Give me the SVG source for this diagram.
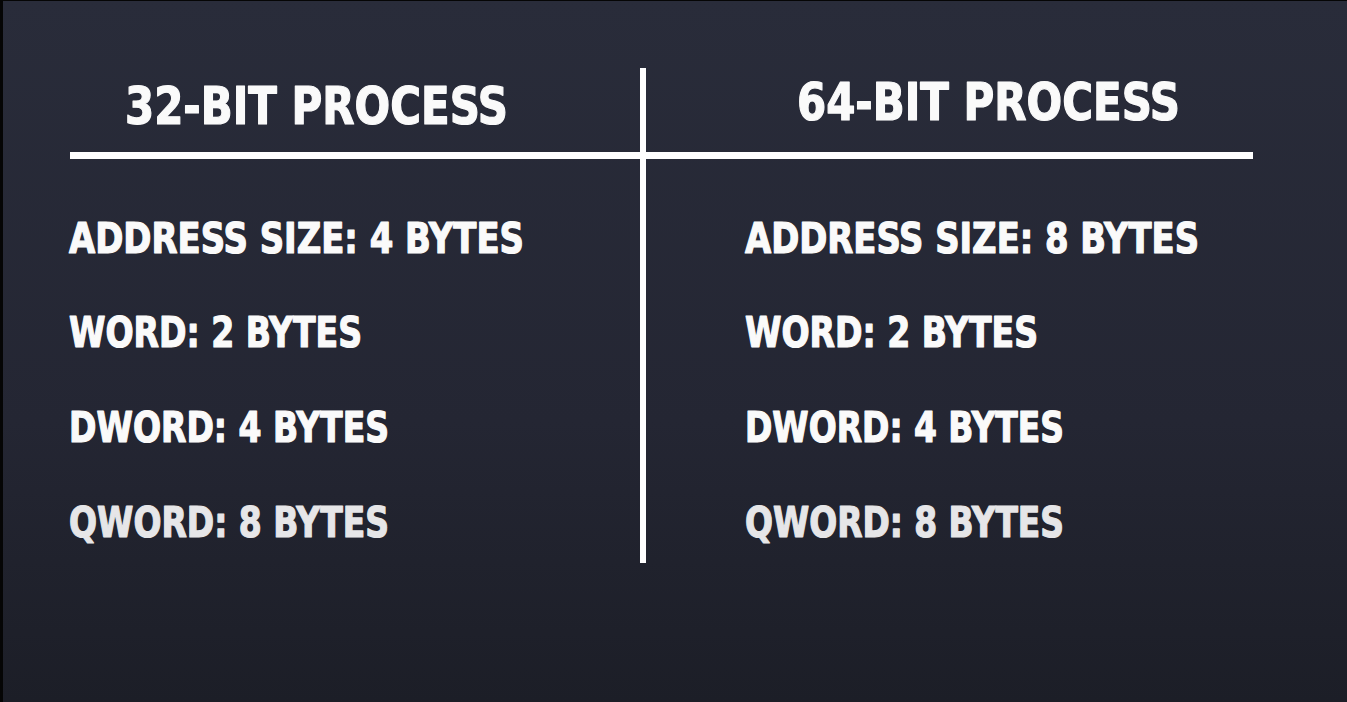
<svg xmlns="http://www.w3.org/2000/svg" width="1347" height="702" viewBox="0 0 1347 702">
  <defs>
    <linearGradient id="bg" x1="0" y1="0" x2="0" y2="1">
      <stop offset="0" stop-color="#292c3a"/>
      <stop offset="0.6" stop-color="#242633"/>
      <stop offset="1" stop-color="#1c1e27"/>
    </linearGradient>
  </defs>
  <style>
    .t { font-family: "DejaVu Sans Condensed", "DejaVu Sans", "Liberation Sans", sans-serif; font-weight: bold; fill: #fafafa; stroke: #fafafa; stroke-width: 1.2px; stroke-linejoin: round; }
    .h { font-size: 51px; }
    .r { font-size: 42px; }
    .q { fill: #e6e6e8; stroke: #e6e6e8; }
    .ln { fill: #ffffff; }
  </style>
  <rect x="0" y="0" width="1347" height="702" fill="url(#bg)"/>
  <rect x="0" y="0" width="3" height="702" fill="#050505"/>
  <rect x="0" y="0" width="1347" height="1" fill="#050505"/>

  <g id="dividers">
    <rect class="ln" x="640" y="68" width="6" height="495"/>
    <rect class="ln" x="70" y="152" width="1183" height="7"/>
  </g>

  <g id="col32">
    <text class="t h" x="125" y="124" textLength="383" lengthAdjust="spacingAndGlyphs">32-BIT PROCESS</text>
    <text class="t r" x="69" y="253" textLength="455" lengthAdjust="spacingAndGlyphs">ADDRESS SIZE: 4 BYTES</text>
    <text class="t r" x="69" y="347" textLength="293" lengthAdjust="spacingAndGlyphs">WORD: 2 BYTES</text>
    <text class="t r" x="69" y="442" textLength="320" lengthAdjust="spacingAndGlyphs">DWORD: 4 BYTES</text>
    <text class="t r q" x="69" y="537" textLength="320" lengthAdjust="spacingAndGlyphs">QWORD: 8 BYTES</text>
  </g>

  <g id="col64">
    <text class="t h" x="797" y="120" textLength="383" lengthAdjust="spacingAndGlyphs">64-BIT PROCESS</text>
    <text class="t r" x="745" y="253" textLength="454" lengthAdjust="spacingAndGlyphs">ADDRESS SIZE: 8 BYTES</text>
    <text class="t r" x="745" y="347" textLength="293" lengthAdjust="spacingAndGlyphs">WORD: 2 BYTES</text>
    <text class="t r" x="745" y="442" textLength="319" lengthAdjust="spacingAndGlyphs">DWORD: 4 BYTES</text>
    <text class="t r q" x="745" y="537" textLength="319" lengthAdjust="spacingAndGlyphs">QWORD: 8 BYTES</text>
  </g>
</svg>
